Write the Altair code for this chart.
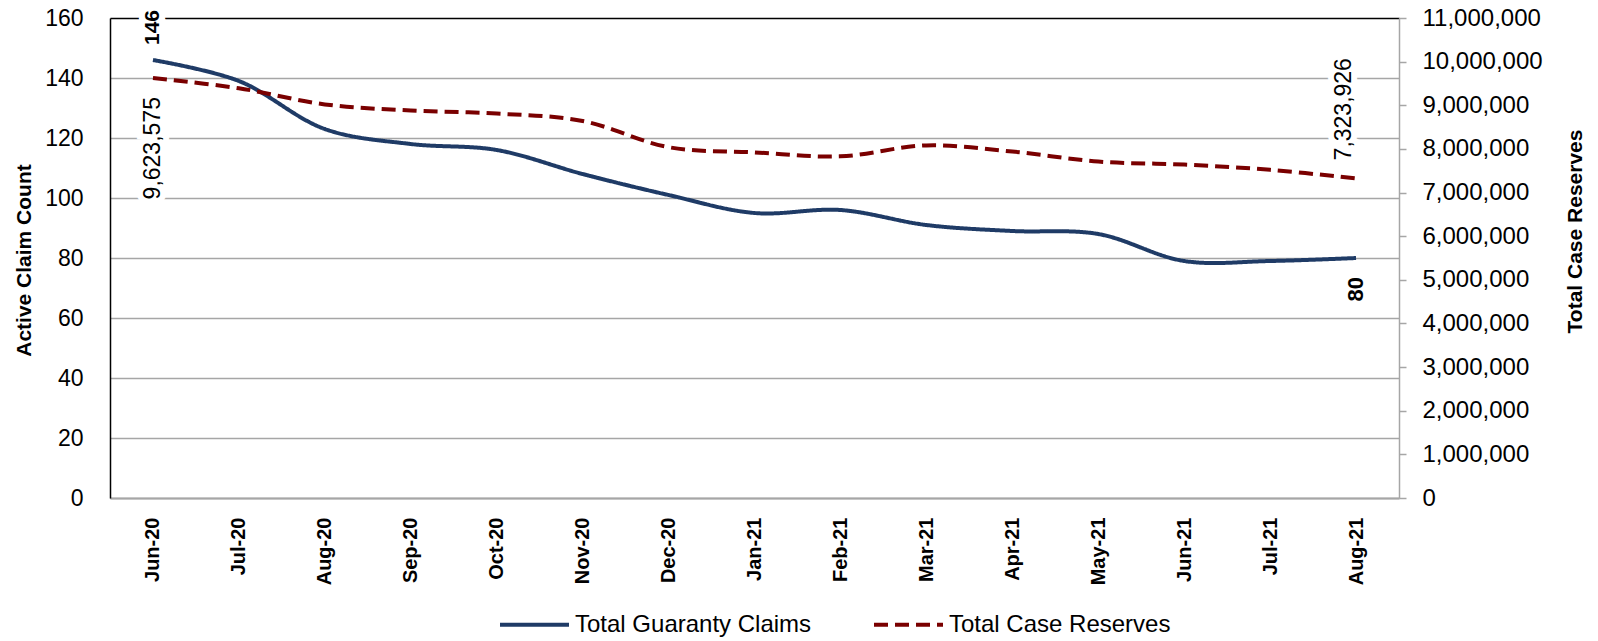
import altair as alt
import pandas as pd

months = ["Jun-20", "Jul-20", "Aug-20", "Sep-20", "Oct-20", "Nov-20", "Dec-20",
          "Jan-21", "Feb-21", "Mar-21", "Apr-21", "May-21", "Jun-21", "Jul-21", "Aug-21"]
claims = [146, 139, 123, 118, 116, 108, 101, 95, 96, 91, 89, 88, 79, 79, 80]
reserves = [9623575, 9390000, 9020000, 8880000, 8810000, 8640000, 8040000, 7920000,
            7830000, 8080000, 7940000, 7710000, 7640000, 7520000, 7323926]
series_names = ["Total Guaranty Claims", "Total Case Reserves"]
left_ticks = list(range(0, 161, 20))
right_ticks = list(range(0, 11000001, 1000000))

n = len(months)
df = pd.DataFrame({
    "month": months * 2,
    "series": [series_names[0]] * n + [series_names[1]] * n,
    "value": claims + reserves,
})
df["label"] = [f"{v:,}" for v in df["value"]]

FONT = "Liberation Sans"
BLUE = "#1f3b66"
RED = "#7a0000"
GRID = "#a6a6a6"
W, H = 1289, 480

x = alt.X("month:N", sort=months,
          scale=alt.Scale(type="point", padding=0.5),
          axis=alt.Axis(title=None, labelAngle=270, labelAlign="right", labelBaseline="middle",
                        labelPadding=19, ticks=False, domainColor=GRID, domainWidth=2,
                        labelFontWeight="bold", labelFontSize=20, labelFont=FONT,
                        labelColor="black", grid=False))

legend = alt.Legend(title=None, orient="none", legendX=388, legendY=570, direction="horizontal",
                    symbolType="stroke", symbolSize=4761, symbolStrokeWidth=4,
                    labelFontSize=24, labelFont=FONT, labelColor="black", labelLimit=400,
                    columnPadding=54, labelOffset=4)
color = alt.Color("series:N", scale=alt.Scale(domain=series_names, range=[BLUE, RED]), legend=legend)
dash = alt.StrokeDash("series:N", scale=alt.Scale(domain=series_names, range=[[1, 0], [14, 7]]),
                      legend=legend)

left_axis = alt.Axis(title="Active Claim Count", values=left_ticks, ticks=False, domainColor="black",
                     domainWidth=1.5, grid=True,
                     gridColor={"condition": {"test": "datum.value === 160", "value": "black"}, "value": GRID},
                     gridWidth=1.5, labelPadding=27, labelFontSize=23, labelFont=FONT, labelColor="black",
                     titleFont=FONT, titleFontSize=21, titleFontWeight="bold", titleColor="black",
                     titleAngle=270, titleX=-86, titleY=242, titleAlign="center", titleBaseline="middle")
right_axis = alt.Axis(title="Total Case Reserves", orient="right", values=right_ticks, format=",d",
                      tickSize=7, tickColor=GRID, tickWidth=1.5, domainColor=GRID, domainWidth=1.5,
                      grid=False, labelPadding=16, labelFontSize=24, labelFont=FONT, labelColor="black",
                      titleFont=FONT, titleFontSize=21, titleFontWeight="bold", titleColor="black",
                      titleAngle=270, titleX=176, titleY=213, titleAlign="center", titleBaseline="middle")

claims_scale = alt.Scale(domain=[0, 160], nice=False)
res_scale = alt.Scale(domain=[0, 11000000], nice=False)
y_claims = alt.Y("value:Q", scale=claims_scale, axis=left_axis)
y_res = alt.Y("value:Q", scale=res_scale, axis=right_axis)
y_claims_plain = alt.Y("value:Q", scale=claims_scale, axis=None)
y_res_plain = alt.Y("value:Q", scale=res_scale, axis=None)

base = alt.Chart(df)

# (series, month, y, align, dx, dy, bold, size)
label_specs = [
    (series_names[0], months[0], y_claims_plain, "left", 15, 0, True, 21),
    (series_names[0], months[-1], y_claims_plain, "right", -19, 0, True, 22),
    (series_names[1], months[0], y_res_plain, "right", -19, 0, False, 23),
    (series_names[1], months[-1], y_res_plain, "left", 18, -12, False, 23),
]


def label(spec, halo=False):
    series, month, y, align, dx, dy, bold, size = spec
    props = dict(angle=270, align=align, baseline="middle", dx=dx, dy=dy, fontSize=size,
                 font=FONT, fontWeight="bold" if bold else "normal")
    if halo:
        props.update(color="white", stroke="white", strokeWidth=12)
    else:
        props.update(color="black")
    return base.transform_filter(
        (alt.datum.series == series) & (alt.datum.month == month)
    ).mark_text(**props).encode(x=x, y=y, text="label:N")


line_claims = base.transform_filter(alt.datum.series == series_names[0]).mark_line(
    strokeWidth=4, interpolate="catmull-rom").encode(x=x, y=y_claims, color=color, strokeDash=dash)
line_res = base.transform_filter(alt.datum.series == series_names[1]).mark_line(
    strokeWidth=4, interpolate="catmull-rom").encode(x=x, y=y_res, color=color, strokeDash=dash)

layers = [line_claims, line_res]
layers += [label(s, halo=True) for s in label_specs]
layers += [label(s) for s in label_specs]

chart = alt.layer(*layers).resolve_scale(y="independent").properties(
    width=W, height=H,
    autosize=alt.AutoSizeParams(type="none"),
    padding={"left": 102, "top": 10, "right": 191, "bottom": 141},
).configure_view(stroke=None)

chart.save("out.html", embed_options={"renderer": "svg", "actions": False})
